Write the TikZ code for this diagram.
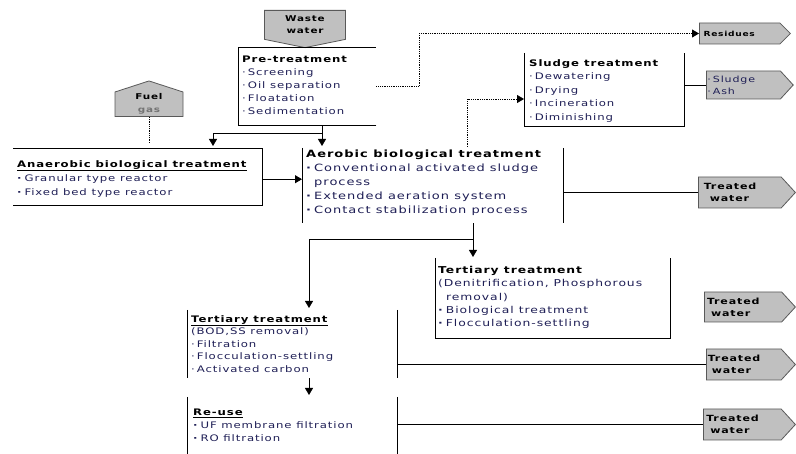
\documentclass[tikz,border=0pt]{standalone}
\usepackage{fontspec}
\setmainfont{DejaVu Sans}[FakeStretch=1.3,LetterSpace=10]
\usetikzlibrary{shapes.symbols,arrows.meta}
\definecolor{itemblue}{RGB}{30,30,85}
\definecolor{signalgray}{RGB}{192,192,192}
\newcommand{\boxtitle}[1]{\textcolor{black}{\bfseries #1}}
\newcommand{\dotitem}{·\hspace{2pt}}
\newcommand{\bolditem}{\textbf{·}\hspace{2pt}}
\begin{document}
\begin{tikzpicture}[x=1pt,y=-1pt,font=\fontsize{9}{13}\selectfont]
\tikzstyle{outlet} = [signal, signal to=east, signal pointer angle=95, fill=signalgray, draw=black!65, line width=0.8pt, inner sep=1pt, text width=72pt, align=left, font=\fontsize{8.5}{12}\selectfont\bfseries, anchor=west];
\tikzstyle{area} = [inner sep=0, anchor=north west];
\tikzstyle{txt} = [inner sep=0, anchor=north west, align=left, text=itemblue];
\tikzstyle{flow} = [-{Triangle[length=7pt,width=8pt]}, line width=0.8pt];
\tikzstyle{byproduct} = [densely dotted, line width=0.8pt, -{Triangle[length=7pt,width=8pt]}];
\useasboundingbox (0,0) rectangle (796,454);
% inputs
\node[signal, signal to=south, signal pointer angle=157, fill=signalgray, draw=black!65, line width=0.8pt, minimum width=81pt, minimum height=33pt, inner sep=0, anchor=north, align=center, font=\fontsize{8}{12}\selectfont\bfseries] (waste) at (305,10) {Waste\\water};
\node[signal, signal to=north, signal pointer angle=144, fill=signalgray, draw=black!65, line width=0.8pt, minimum width=68pt, minimum height=29pt, inner sep=0, anchor=south, align=center, font=\fontsize{8}{13}\selectfont\bfseries] (fuel) at (149,117) {Fuel\\\textcolor{black!55}{gas}};
% treatment areas
\node[area, minimum width=138pt, minimum height=78pt] (pre) at (238,47) {};
\node[area, minimum width=160pt, minimum height=73pt] (sludge) at (524,53) {};
\node[area, minimum width=249pt, minimum height=57pt] (anaer) at (13,148) {};
\node[area, minimum width=261pt, minimum height=75pt] (aero) at (302,148) {};
\node[area, minimum width=235pt, minimum height=80pt] (tert) at (435,258) {};
\node[area, minimum width=210pt, minimum height=68pt] (bod) at (187,310) {};
\node[area, minimum width=210pt, minimum height=57pt] (reuse) at (187,397) {};
\draw[line width=0.8pt] (pre.south east) -- (pre.south west) -- (pre.north west) -- (pre.north east);
\draw[line width=0.8pt] (sludge.north west) -- (sludge.south west) -- (sludge.south east) -- (sludge.north east);
\draw[line width=0.8pt] (anaer.north west) -- (anaer.north east) -- (anaer.south east) -- (anaer.south west);
\draw[line width=0.8pt] (aero.north west) -- (aero.south west);
\draw[line width=0.8pt] (aero.north east) -- (aero.south east);
\draw[line width=0.8pt] (tert.north west) -- (tert.south west) -- (tert.south east) -- (tert.north east);
\draw[line width=0.8pt] (bod.north west) -- (bod.south west);
\draw[line width=0.8pt] (bod.north east) -- (bod.south east);
\draw[line width=0.8pt] (reuse.north west) -- (reuse.south west);
\draw[line width=0.8pt] (reuse.north east) -- (reuse.south east);
% texts
\node[txt] (pretxt) at (242,56) {\boxtitle{Pre-treatment}\\ \dotitem Screening\\ \dotitem Oil separation\\ \dotitem Floatation\\ \dotitem Sedimentation};
\node[txt, font=\fontsize{9}{13.5}\selectfont] (sludgetxt) at (529,59) {\boxtitle{Sludge treatment}\\ \dotitem Dewatering\\ \dotitem Drying\\ \dotitem Incineration\\ \dotitem Diminishing};
\node[txt, font=\fontsize{9}{14}\selectfont] (anaertxt) at (17,160) {\boxtitle{\underline{Anaerobic biological treatment}}\\ \bolditem Granular type reactor\\ \bolditem Fixed bed type reactor};
\node[txt, font=\fontsize{10}{14}\selectfont] (aerotxt) at (306,150) {\boxtitle{Aerobic biological treatment}\\ \bolditem Conventional activated sludge\\ \hspace*{8pt}process\\ \bolditem Extended aeration system\\ \bolditem Contact stabilization process};
\node[txt, font=\fontsize{9.5}{13.3}\selectfont] (terttxt) at (438,266) {\boxtitle{Tertiary treatment}\\ (Denitrification, Phosphorous\\ \hspace*{8pt}removal)\\ \bolditem Biological treatment\\ \bolditem Flocculation-settling};
\node[txt, font=\fontsize{9}{12.5}\selectfont] (bodtxt) at (191,315) {\boxtitle{\underline{Tertiary treatment}}\\ (BOD,SS removal)\\ \dotitem Filtration\\ \dotitem Flocculation-settling\\ \dotitem Activated carbon};
\node[txt] (reusetxt) at (193,409) {\boxtitle{\underline{Re-use}}\\ \bolditem UF membrane filtration\\ \bolditem RO filtration};
% outlets
\node[outlet, signal pointer angle=90, minimum width=91pt, minimum height=21pt, font=\fontsize{7}{9}\selectfont\bfseries] (resid) at (699,33.5) {Residues};
\node[outlet, minimum width=84pt, minimum height=28pt, font=\fontsize{8.5}{12}\selectfont, text=itemblue] (ash) at (706,85) {\dotitem Sludge\\ \dotitem Ash};
\node[outlet, minimum width=97pt, minimum height=31pt] (tw1) at (698,192.5) {Treated\\\hspace*{6pt}water};
\node[outlet, minimum width=91pt, minimum height=30pt] (tw2) at (704,307) {Treated\\\hspace*{4pt}water};
\node[outlet, minimum width=89pt, minimum height=31pt] (tw3) at (706,364.5) {Treated\\\hspace*{4pt}water};
\node[outlet, minimum width=92pt, minimum height=31pt] (tw4) at (703,424.5) {Treated\\\hspace*{4pt}water};
% connectors
\coordinate (split) at (322,133);
\coordinate (anin) at (213,146);
\coordinate (aein) at (322,146);
\coordinate (fuelend) at (149,143);
\coordinate (aeroout) at (467,147);
\coordinate (sludgein) at (524,99);
\coordinate (branch) at (473,239);
\coordinate (bodin) at (309,308);
\draw[line width=0.8pt] (waste.south) -- (waste.south |- pre.north);
\draw[line width=0.8pt] (pre.south -| split) -- (split);
\draw[flow] (split) -| (anin);
\draw[flow] (split) -- (aein);
\draw[densely dotted, line width=0.8pt] (fuel.south) -- (fuelend);
\draw[flow] ([yshift=-2.5pt]anaer.east) -- ([yshift=-2.5pt]anaer.east -| aero.west);
\draw[byproduct] (pre.east) -- ++(43,0) |- (resid.west);
\draw[byproduct] (aeroout) |- (sludgein);
\draw[line width=0.8pt] (ash.west -| sludge.east) -- (ash.west);
\draw[line width=0.8pt] (tw1.west -| aero.east) -- (tw1.west);
\draw[line width=0.8pt] (aero.south -| branch) -- (branch);
\draw[flow] (branch) -- ([yshift=1pt]tert.north -| branch);
\draw[flow] (branch) -| (bodin);
\draw[flow, shorten >=2pt] (bod.south -| bodin) -- (reuse.north -| bodin);
\draw[line width=0.8pt] (tw3.west -| bod.east) -- (tw3.west);
\draw[line width=0.8pt] (tw4.west -| reuse.east) -- (tw4.west);
\end{tikzpicture}
\end{document}
